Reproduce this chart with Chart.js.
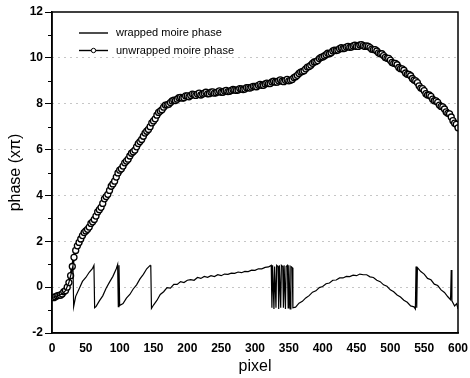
<!DOCTYPE html>
<html>
<head>
<meta charset="utf-8">
<script src="https://cdn.jsdelivr.net/npm/chart.js@4/dist/chart.umd.min.js"></script>
<style>
html,body{margin:0;padding:0;background:#fff;}
#wrap{width:470px;height:378px;position:relative;}
</style>
</head>
<body>
<div id="wrap"><canvas id="c" width="470" height="378"></canvas></div>
<script>
// ---- data ----
const seriesLabels = ["wrapped moire phase", "unwrapped moire phase"];

// unwrapped phase, read at every 5 pixels
const unwrappedPixel = [0,5,10,15,20,25,30,35,40,45,50,55,60,65,70,75,80,85,90,95,
  100,105,110,115,120,125,130,135,140,145,150,155,160,165,170,175,180,185,190,195,
  200,205,210,215,220,225,230,235,240,245,250,255,260,265,270,275,280,285,290,295,
  300,305,310,315,320,325,330,335,340,345,350,355,360,365,370,375,380,385,390,395,
  400,405,410,415,420,425,430,435,440,445,450,455,460,465,470,475,480,485,490,495,
  500,505,510,515,520,525,530,535,540,545,550,555,560,565,570,575,580,585,590,595,600];
const unwrappedPhase = [-0.45,-0.42,-0.36,-0.3,-0.15,0.2,0.9,1.6,1.95,2.25,2.45,2.62,2.85,3.1,3.38,3.65,3.95,4.22,4.5,4.8,
  5.1,5.28,5.5,5.72,5.9,6.12,6.35,6.58,6.8,7.0,7.25,7.5,7.68,7.85,7.95,8.05,8.16,8.2,8.28,8.26,
  8.34,8.36,8.4,8.42,8.38,8.46,8.43,8.5,8.46,8.52,8.5,8.55,8.53,8.58,8.6,8.6,8.65,8.64,8.7,8.72,
  8.75,8.8,8.8,8.86,8.88,8.95,8.94,9.0,8.98,9.02,9.0,9.06,9.18,9.32,9.4,9.52,9.62,9.76,9.84,9.97,
  10.04,10.14,10.18,10.3,10.32,10.4,10.4,10.47,10.46,10.52,10.5,10.56,10.53,10.52,10.45,10.36,10.3,10.18,10.1,9.98,
  9.9,9.76,9.7,9.53,9.46,9.28,9.22,9.03,8.92,8.68,8.57,8.38,8.32,8.13,8.06,7.88,7.77,7.58,7.42,7.15,6.95];

// unwrapped phase, read in between (pixel 2.5, 7.5, ...), showing the scatter of the band
const unwrappedPixelMid = [2.5,7.5,12.5,17.5,22.5,27.5,32.5,37.5,42.5,47.5,52.5,57.5,62.5,67.5,72.5,77.5,82.5,87.5,92.5,97.5,
  102.5,107.5,112.5,117.5,122.5,127.5,132.5,137.5,142.5,147.5,152.5,157.5,162.5,167.5,172.5,177.5,182.5,187.5,192.5,197.5,
  202.5,207.5,212.5,217.5,222.5,227.5,232.5,237.5,242.5,247.5,252.5,257.5,262.5,267.5,272.5,277.5,282.5,287.5,292.5,297.5,
  302.5,307.5,312.5,317.5,322.5,327.5,332.5,337.5,342.5,347.5,352.5,357.5,362.5,367.5,372.5,377.5,382.5,387.5,392.5,397.5,
  402.5,407.5,412.5,417.5,422.5,427.5,432.5,437.5,442.5,447.5,452.5,457.5,462.5,467.5,472.5,477.5,482.5,487.5,492.5,497.5,
  502.5,507.5,512.5,517.5,522.5,527.5,532.5,537.5,542.5,547.5,552.5,557.5,562.5,567.5,572.5,577.5,582.5,587.5,592.5,597.5];
const unwrappedPhaseMid = [-0.46,-0.38,-0.35,-0.2,0.0,0.5,1.3,1.8,2.1,2.38,2.52,2.78,2.95,3.28,3.48,3.85,4.05,4.4,4.62,4.98,
  5.16,5.42,5.58,5.84,5.98,6.26,6.44,6.72,6.88,7.16,7.34,7.62,7.74,7.94,7.98,8.12,8.14,8.26,8.24,8.34,
  8.3,8.42,8.36,8.46,8.42,8.5,8.44,8.52,8.48,8.56,8.5,8.58,8.54,8.62,8.58,8.66,8.62,8.7,8.68,8.76,
  8.74,8.84,8.8,8.9,8.88,8.98,8.94,9.04,8.96,9.06,9.02,9.14,9.24,9.38,9.44,9.6,9.68,9.82,9.88,10.02,
  10.08,10.2,10.22,10.34,10.34,10.44,10.42,10.5,10.47,10.55,10.5,10.58,10.5,10.5,10.38,10.36,10.22,10.18,10.02,9.98,
  9.8,9.76,9.58,9.52,9.34,9.28,9.1,9.0,8.78,8.66,8.44,8.38,8.2,8.12,7.94,7.86,7.64,7.56,7.26,7.1];

const wrappedPixel = [0,5,10,15,20,25,28,31,32,35,40,45,50,55,60,62,63,65,70,75,80,85,90,95,97,98,99,100,
  105,110,115,120,125,130,135,140,145,146,147,150,155,160,165,170,175,180,185,190,195,
  200,205,210,215,220,225,230,235,240,245,250,255,260,265,270,275,280,285,290,295,300,305,310,315,320,
  324,325,326,328,329,331,332,334,335,336,338,339,341,342,343,345,346,348,349,350,352,353,355,356,
  360,365,370,375,380,385,390,395,400,405,410,415,420,425,430,435,440,445,450,455,460,465,470,475,480,485,490,495,
  500,505,510,515,520,525,530,535,537,538,539,540,545,550,555,560,565,570,575,580,585,589,590,591,595,598,600];
const wrappedPhase = [-0.45,-0.42,-0.36,-0.3,-0.15,0.2,0.55,0.95,-0.85,-0.4,-0.08,0.25,0.42,0.65,0.82,0.95,-0.9,-0.85,-0.6,-0.38,-0.05,0.22,0.47,0.8,0.98,-0.85,0.95,-0.8,
  -0.72,-0.48,-0.32,-0.08,0.1,0.36,0.56,0.8,0.95,0.9,-0.93,-0.78,-0.58,-0.32,-0.2,-0.02,-0.04,0.12,0.12,0.24,0.2,
  0.3,0.33,0.3,0.42,0.38,0.47,0.43,0.5,0.46,0.54,0.5,0.57,0.56,0.61,0.6,0.66,0.63,0.69,0.68,0.74,0.73,0.8,0.8,0.86,0.88,
  0.95,-0.9,0.95,-0.95,0.9,-0.9,0.95,0.9,-0.95,0.95,-0.9,0.95,0.9,-0.9,0.95,-0.95,0.9,0.95,-0.9,0.95,-0.95,0.9,0.85,-0.9,
  -0.87,-0.7,-0.62,-0.47,-0.37,-0.22,-0.16,-0.02,0.03,0.15,0.18,0.3,0.31,0.4,0.4,0.47,0.46,0.52,0.5,0.57,0.54,0.54,0.45,0.42,0.3,0.24,0.1,0.04,
  -0.12,-0.2,-0.34,-0.43,-0.57,-0.66,-0.82,-0.86,-0.95,0.9,-0.9,0.85,0.68,0.57,0.38,0.32,0.13,0.07,-0.12,-0.23,-0.42,-0.55,0.75,-0.6,-0.82,-0.72,-0.95];

const xTicks = [0,50,100,150,200,250,300,350,400,450,500,550,600];
const yTicks = [-2,0,2,4,6,8,10,12];

// ---- chart ----
const FONT = "'Liberation Sans', Arial, Helvetica, sans-serif";

const unwrappedPoints = unwrappedPixel.map((x, i) => ({x, y: unwrappedPhase[i]}))
  .concat(unwrappedPixelMid.map((x, i) => ({x, y: unwrappedPhaseMid[i]})))
  .sort((a, b) => a.x - b.x);

const framePlugin = {
  id: 'frame',
  afterDraw(chart) {
    const ctx = chart.ctx, a = chart.chartArea, ys = chart.scales.y;
    ctx.save();
    ctx.setLineDash([]);
    ctx.strokeStyle = '#000';
    ctx.lineWidth = 1.5;
    ctx.strokeRect(a.left, a.top, a.right - a.left, a.bottom - a.top);
    // minor ticks on y (odd values)
    ctx.lineWidth = 1;
    for (let v = ys.min + 1; v < ys.max; v += 2) {
      const y = Math.round(ys.getPixelForValue(v)) + 0.5;
      ctx.beginPath(); ctx.moveTo(a.left - 4, y); ctx.lineTo(a.left, y); ctx.stroke();
    }
    // legend inside the plot
    const lx0 = a.left + 27, lx1 = a.left + 56, tx = a.left + 64;
    const rows = [a.top + 21, a.top + 38.5];
    ctx.font = '11px ' + FONT;
    ctx.fillStyle = '#000';
    ctx.textBaseline = 'middle';
    ctx.textAlign = 'left';
    chart.data.datasets.forEach((ds, i) => {
      const y = rows[i];
      ctx.lineWidth = 1.4;
      ctx.beginPath(); ctx.moveTo(lx0, y); ctx.lineTo(lx1, y); ctx.stroke();
      if (ds.pointRadius > 0) {
        ctx.beginPath(); ctx.arc((lx0 + lx1) / 2, y, 2.2, 0, Math.PI * 2);
        ctx.fillStyle = '#fff'; ctx.fill(); ctx.lineWidth = 1; ctx.stroke();
        ctx.fillStyle = '#000';
      }
      ctx.fillText(ds.label, tx, y);
    });
    ctx.restore();
  }
};

new Chart(document.getElementById('c'), {
  type: 'line',
  data: {
    datasets: [
      {
        label: seriesLabels[0],
        data: wrappedPixel.map((x, i) => ({x, y: wrappedPhase[i]})),
        borderColor: '#000',
        borderWidth: 1.2,
        pointRadius: 0,
        tension: 0
      },
      {
        label: seriesLabels[1],
        data: unwrappedPoints,
        borderColor: '#000',
        borderWidth: 2.5,
        pointRadius: 3,
        pointBorderWidth: 1.3,
        pointBackgroundColor: '#fff',
        pointBorderColor: '#000',
        tension: 0
      }
    ]
  },
  options: {
    responsive: false,
    animation: false,
    events: [],
    layout: { padding: { top: 12, right: 12, left: 0, bottom: 0 } },
    plugins: { legend: { display: false }, tooltip: { enabled: false } },
    scales: {
      x: {
        type: 'linear',
        min: 0, max: 600,
        afterFit(s) { s.height = 45; },
        afterBuildTicks(s) { s.ticks = xTicks.map(v => ({value: v})); },
        grid: { display: false },
        border: { display: true, color: '#000', width: 1.5 },
        ticks: { color: '#000', padding: 0, font: { family: FONT, size: 12, weight: 'bold' } },
        title: { display: true, text: 'pixel', color: '#000', font: { family: FONT, size: 16 }, padding: { top: 0, bottom: 2 } }
      },
      y: {
        type: 'linear',
        min: -2, max: 12,
        afterFit(s) { s.width = 52; },
        afterBuildTicks(s) { s.ticks = yTicks.map(v => ({value: v})); },
        grid: {
          display: true,
          color: (c) => (c.tick && (c.tick.value === -2 || c.tick.value === 12)) ? 'rgba(0,0,0,0)' : '#8c8c8c',
          lineWidth: 1,
          tickColor: '#000',
          tickLength: 7,
          tickWidth: 1,
          tickBorderDash: []
        },
        border: { display: true, color: '#000', width: 1.5, dash: [1, 5] },
        ticks: { color: '#000', padding: 2, font: { family: FONT, size: 12, weight: 'bold' } },
        title: { display: true, text: 'phase (xπ)', color: '#000', font: { family: FONT, size: 16 }, padding: { top: 6, bottom: 0 } }
      }
    }
  },
  plugins: [framePlugin]
});
</script>
</body>
</html>
